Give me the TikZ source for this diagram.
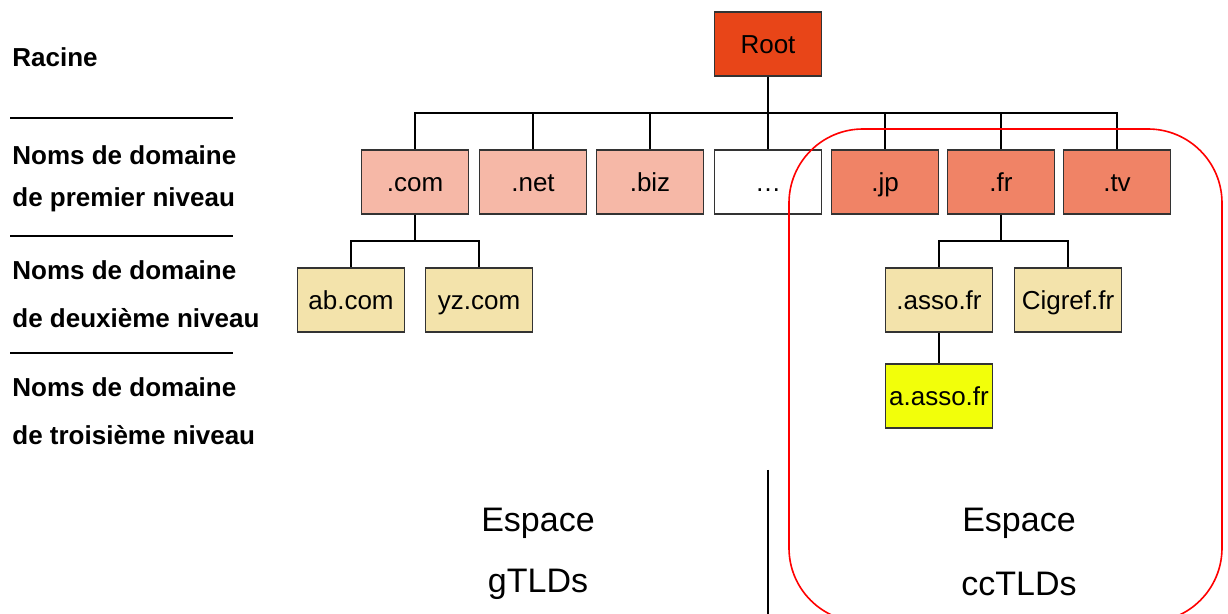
\documentclass[tikz,border=0pt]{standalone}
\usepackage{fontspec}
\setmainfont{Liberation Sans}
\usepackage{xcolor}
\usepackage{tikz}
\definecolor{rootred}{HTML}{E84518}
\definecolor{gpink}{HTML}{F6B8A7}
\definecolor{ccsalmon}{HTML}{F08366}
\definecolor{sndbeige}{HTML}{F3E3AB}
\definecolor{trdyellow}{HTML}{F2FF0A}
\definecolor{boxline}{HTML}{333333}
\tikzset{
  dom/.style={draw=boxline, line width=0.7pt, minimum width=53.5pt, minimum height=32pt, inner sep=1pt,
    text height=11pt, text depth=1pt, font=\fontsize{13}{15}\selectfont},
  link/.style={draw=black, line width=0.6pt},
  sep/.style={draw=black, line width=0.6pt},
  lev/.style={anchor=west, inner sep=0pt, font=\fontsize{13}{15}\selectfont\bfseries},
  space/.style={font=\fontsize{17}{20}\selectfont},
  ccbox/.style={draw=red, line width=0.8pt, rounded corners=37pt}
}

\begin{document}
\begin{tikzpicture}[x=0.5pt, y=-0.5pt]
  \useasboundingbox (0,0) rectangle (1228,614);

  % levels on the left
  \node[lev] (racine) at (12,57) {Racine};
  \node[lev] (n1a) at (12,155) {Noms de domaine};
  \node[lev] (n1b) at (12,200) {de premier niveau};
  \node[lev] (n2a) at (12,270) {Noms de domaine};
  \node[lev] (n2b) at (12,318) {de deuxième niveau};
  \node[lev] (n3a) at (12,387) {Noms de domaine};
  \node[lev] (n3b) at (12,435) {de troisième niveau};
  \draw[sep] (10,118) -- (233,118);
  \draw[sep] (10,236) -- (233,236);
  \draw[sep] (10,353) -- (233,353);

  % tree
  \node[dom, fill=rootred] (root) at (768,44) {Root};

  \node[dom, fill=gpink] (com) at (415,182) {.com};
  \node[dom, fill=gpink] (net) at (533,182) {.net};
  \node[dom, fill=gpink] (biz) at (650,182) {.biz};
  \node[dom, fill=white] (etc) at (768,182) {\dots};
  \node[dom, fill=ccsalmon] (jp) at (885,182) {.jp};
  \node[dom, fill=ccsalmon] (fr) at (1001,182) {.fr};
  \node[dom, fill=ccsalmon] (tv) at (1117,182) {.tv};

  \node[dom, fill=sndbeige] (ab) at (351,300) {ab.com};
  \node[dom, fill=sndbeige] (yz) at (479,300) {yz.com};
  \node[dom, fill=sndbeige] (asso) at (939,300) {.asso.fr};
  \node[dom, fill=sndbeige] (cigref) at (1068,300) {Cigref.fr};

  \node[dom, fill=trdyellow] (aasso) at (939,396) {a.asso.fr};

  \coordinate (bus0) at (768,113);
  \coordinate (bus1) at (415,241);
  \coordinate (bus2) at (1001,241);

  \draw[link] (root) -- (bus0);
  \foreach \n in {com,net,biz,etc,jp,fr,tv}
    \draw[link] (bus0) -| (\n);
  \draw[link] (com) -- (bus1);
  \foreach \n in {ab,yz}
    \draw[link] (bus1) -| (\n);
  \draw[link] (fr) -- (bus2);
  \foreach \n in {asso,cigref}
    \draw[link] (bus2) -| (\n);
  \draw[link] (asso) -- (aasso);

  % spaces
  \coordinate (split) at (768,470);
  \draw[sep] (split) -- (768,614);
  \node[space] (gesp) at (538,523) {Espace};
  \node[space] (gtld) at (538,584) {gTLDs};
  \node[space] (ccesp) at (1019,523) {Espace};
  \node[space] (cctld) at (1019,584) {ccTLDs};

  % ccTLD space, on top
  \draw[ccbox] (789,129) rectangle (1222,622);
\end{tikzpicture}
\end{document}
